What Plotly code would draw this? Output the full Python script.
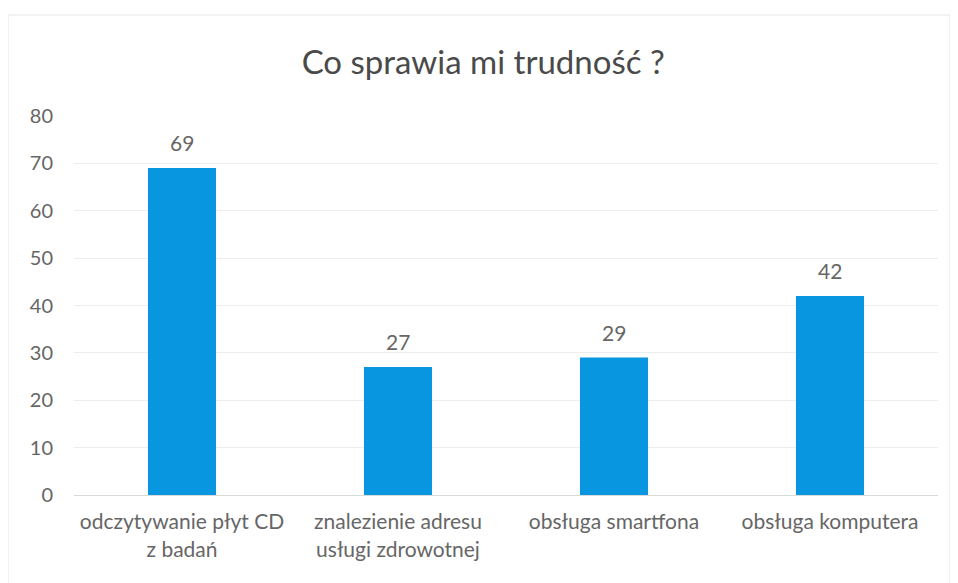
import plotly.graph_objects as go

categories = ["odczytywanie płyt CD<br>z badań", "znalezienie adresu<br>usługi zdrowotnej",
              "obsługa smartfona", "obsługa komputera"]
values = [69, 27, 29, 42]
title = "Co sprawia mi trudność ?"
y_ticks = [0, 10, 20, 30, 40, 50, 60, 70, 80]

FONT = "Lato, 'Open Sans', sans-serif"
GRAY = "#666666"

fig = go.Figure(go.Bar(
    x=categories, y=values,
    marker=dict(color="#0896e0", line=dict(width=0)),
    width=0.315,
    hoverinfo="x+y",
))

for c, v in zip(categories, values):
    fig.add_annotation(x=c, y=v, text=str(v), showarrow=False, yanchor="bottom",
                       yshift=11, font=dict(size=21, color=GRAY, family=FONT))

fig.update_layout(
    width=958, height=583,
    margin=dict(l=66, r=28, t=108, b=96),
    paper_bgcolor="white", plot_bgcolor="white",
    title=dict(text=title, x=0.496, xref="container", y=1 - 54/583, yanchor="middle",
               font=dict(size=33, color="#4a4a4a", family=FONT)),
    font=dict(family=FONT, color=GRAY),
    showlegend=False,
    bargap=0.685,
)
fig.update_xaxes(showgrid=False, showline=True, linecolor="#d9d9d9", linewidth=1,
                 ticks="", ticklabelstandoff=8,
                 tickfont=dict(size=21, color=GRAY, family=FONT))
fig.update_yaxes(range=[0, 80], tickvals=y_ticks, showgrid=True, gridcolor="#ededed",
                 zeroline=False, showline=False, ticks="", ticklabelstandoff=20,
                 tickfont=dict(size=20, color=GRAY, family=FONT))

# faint chart border
fig.add_shape(type="rect", xref="paper", yref="paper",
              x0=-66/864, x1=1 + 12/864, y0=-92/379, y1=1 + 101/379,
              line=dict(color="#e6e6e6", width=1))

fig.write_html("out.html")
